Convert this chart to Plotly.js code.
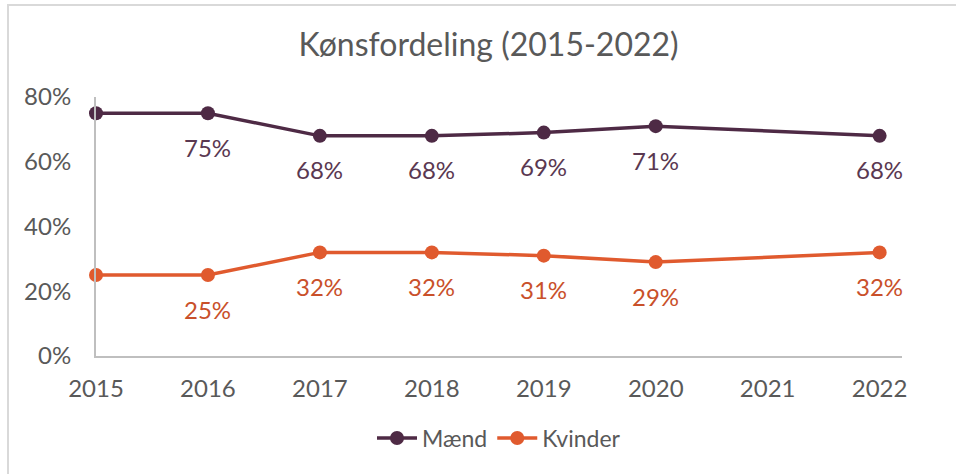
<!DOCTYPE html>
<html>
<head>
<meta charset="utf-8">
<script src="https://cdn.plot.ly/plotly-3.0.1.min.js"></script>
<style>
  html, body { margin:0; padding:0; background:#fff; }
  #wrap { position:relative; width:956px; height:474px; overflow:hidden; }
  #chart { position:absolute; left:0; top:0; width:956px; height:474px; }
  #frame { position:absolute; left:7px; top:4px; width:960px; height:480px;
           border-left:2px solid #d9d9d9; border-top:2px solid #d9d9d9; pointer-events:none; }
</style>
</head>
<body>
<div id="wrap">
  <div id="chart"></div>
  <div id="frame"></div>
</div>
<script>
const years = [2015, 2016, 2017, 2018, 2019, 2020, 2021, 2022];
const maend = [75, 75, 68, 68, 69, 71, null, 68];
const kvinder = [25, 25, 32, 32, 31, 29, null, 32];
const maendLabels = ['', '75%', '68%', '68%', '69%', '71%', '', '68%'];
const kvinderLabels = ['', '25%', '32%', '32%', '31%', '29%', '', '32%'];
const yTicks = [0, 20, 40, 60, 80];
const yTickText = ['0%', '20%', '40%', '60%', '80%'];

const plum = '#4e2a45';
const orange = '#e05a2e';
const plumText = '#5a3851';
const orangeText = '#c9502a';
const font = 'Lato, "Open Sans", sans-serif';

const traces = [
  { x: years, y: maend, name: 'Mænd', type: 'scatter', mode: 'lines+markers',
    connectgaps: true, cliponaxis: false,
    line: { color: plum, width: 3.5 }, marker: { color: plum, size: 14 } },
  { x: years, y: kvinder, name: 'Kvinder', type: 'scatter', mode: 'lines+markers',
    connectgaps: true, cliponaxis: false,
    line: { color: orange, width: 3.5 }, marker: { color: orange, size: 14 } }
];

const annotations = [];
years.forEach((yr, i) => {
  if (maendLabels[i]) annotations.push({ x: yr, y: maend[i], xref: 'x', yref: 'y', text: maendLabels[i],
    showarrow: false, yshift: -34, font: { family: font, size: 24, color: plumText } });
  if (kvinderLabels[i]) annotations.push({ x: yr, y: kvinder[i], xref: 'x', yref: 'y', text: kvinderLabels[i],
    showarrow: false, yshift: -34, font: { family: font, size: 24, color: orangeText } });
});

const layout = {
  width: 956, height: 474,
  margin: { l: 96, r: 54, t: 97, b: 118 },
  paper_bgcolor: '#fff', plot_bgcolor: '#fff',
  font: { family: font, color: '#595959' },
  title: { text: 'Kønsfordeling (2015-2022)', x: 0.511, xanchor: 'center', y: 0.905, yanchor: 'middle',
           font: { family: font, size: 32, color: '#595959' } },
  xaxis: { type: 'linear', range: [2015, 2022.2], tickvals: years, ticktext: years.map(String),
           showline: true, linecolor: '#bfbfbf', linewidth: 2, showgrid: false, zeroline: false,
           ticks: 'outside', ticklen: 10, tickcolor: 'rgba(0,0,0,0)',
           tickfont: { family: font, size: 24, color: '#595959' } },
  yaxis: { range: [0, 80], tickvals: yTicks, ticktext: yTickText,
           showline: true, linecolor: '#bfbfbf', linewidth: 2, showgrid: false, zeroline: false,
           ticks: 'outside', ticklen: 18, tickcolor: 'rgba(0,0,0,0)',
           tickfont: { family: font, size: 24, color: '#595959' } },
  showlegend: true,
  legend: { orientation: 'h', x: 0.5, xanchor: 'center', y: -0.317, yanchor: 'middle',
            font: { family: font, size: 23, color: '#595959' }, itemwidth: 40 },
  annotations: annotations
};

Plotly.newPlot('chart', traces, layout, { displayModeBar: false, staticPlot: true });
</script>
</body>
</html>
